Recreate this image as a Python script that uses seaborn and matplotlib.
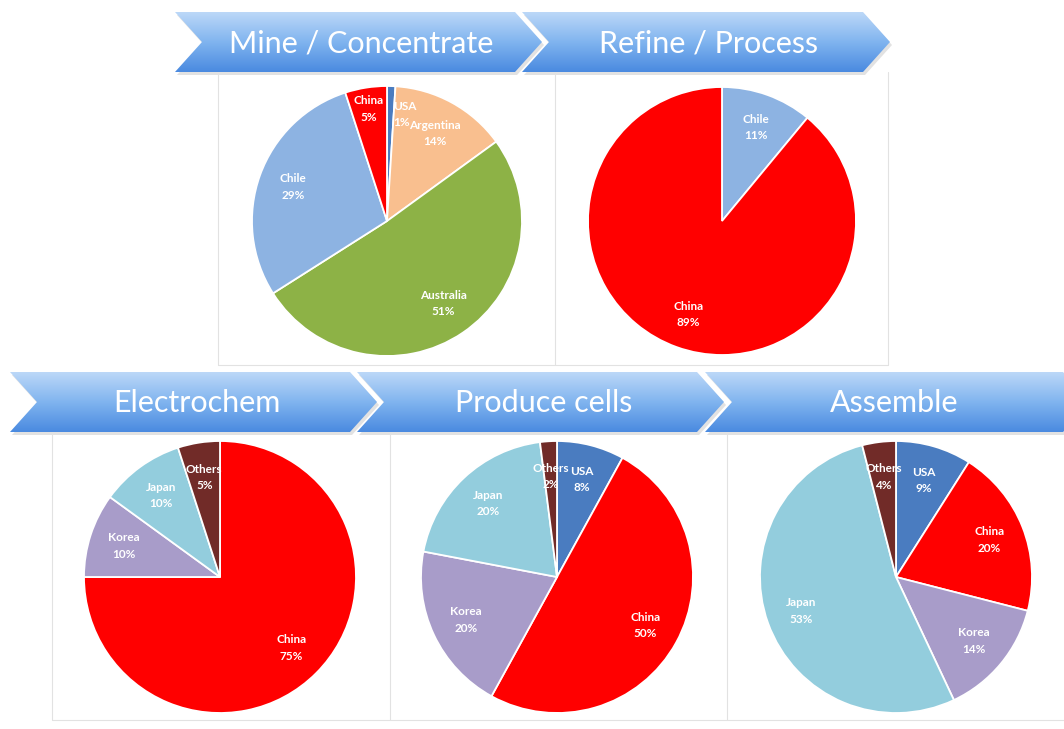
import matplotlib
matplotlib.use('Agg')
import matplotlib.pyplot as plt
import numpy as np
import seaborn as sns
from matplotlib.patches import Polygon
from matplotlib.colors import LinearSegmentedColormap

sns.set_theme(style='white')
plt.rcParams['font.family'] = ['Lato', 'DejaVu Sans']

#stage names
stages = ['Mine / Concentrate', 'Refine / Process', 'Electrochem', 'Produce cells', 'Assemble']

#shares per stage (clockwise from 12 o'clock)
mine_labels = ['USA', 'Argentina', 'Australia', 'Chile', 'China']
mine_values = [1, 14, 51, 29, 5]

refine_labels = ['Chile', 'China']
refine_values = [11, 89]

electro_labels = ['China', 'Korea', 'Japan', 'Others']
electro_values = [75, 10, 10, 5]

cells_labels = ['USA', 'China', 'Korea', 'Japan', 'Others']
cells_values = [8, 50, 20, 20, 2]

assemble_labels = ['USA', 'China', 'Korea', 'Japan', 'Others']
assemble_values = [9, 20, 14, 53, 4]

#country colours
colors = {
    'USA': '#4a7cc0',
    'Argentina': '#f9bf8f',
    'Australia': '#8db246',
    'Chile': '#8db3e2',
    'China': '#ff0000',
    'Korea': '#a89cc9',
    'Japan': '#93cddd',
    'Others': '#712b28',
}

W, H = 1064, 729
fig = plt.figure(figsize=(W / 100, H / 100), dpi=100)
fig.patch.set_facecolor('white')

#background layer in pixel coords
bg = fig.add_axes([0, 0, 1, 1])
bg.axis('off')

#faint panel frames
frame_col = '#e2e2e2'
for x in [218, 555, 888]:
    bg.plot([x, x], [72, 365], color=frame_col, lw=0.8)
bg.plot([218, 888], [365, 365], color=frame_col, lw=0.8)
for x in [52, 390, 727]:
    bg.plot([x, x], [432, 720], color=frame_col, lw=0.8)
bg.plot([52, 1064], [720, 720], color=frame_col, lw=0.8)

#chevron headers
cmap = LinearSegmentedColormap.from_list('chev', ['#bcd8f8', '#80b4ef', '#4a8ae0'])
grad = np.linspace(0, 1, 200).reshape(-1, 1)
chevrons = [
    (stages[0], 175, 542, 12, 72),
    (stages[1], 522, 890, 12, 72),
    (stages[2], 10, 377, 372, 432),
    (stages[3], 357, 724, 372, 432),
    (stages[4], 705, 1090, 372, 432),
]
d = 27
for title, x0, x1, y0, y1 in chevrons:
    ym = (y0 + y1) / 2
    pts = [(x0, y0), (x1 - d, y0), (x1, ym), (x1 - d, y1), (x0, y1), (x0 + d, ym)]
    shadow = Polygon([(px + 2, py + 3) for px, py in pts], closed=True,
                     facecolor='#a0a0a0', edgecolor='none', alpha=0.3, zorder=1)
    bg.add_patch(shadow)
    poly = Polygon(pts, closed=True, facecolor='none', edgecolor='none', zorder=2)
    bg.add_patch(poly)
    im = bg.imshow(grad, extent=[x0, x1, y1, y0], cmap=cmap, aspect='auto', zorder=2)
    im.set_clip_path(poly)
    tx = (x0 + x1) / 2 + 3 if x1 < W else (x0 + W) / 2 + 10
    bg.text(tx, ym + 1, title, color='white', fontsize=22, ha='center', va='center', zorder=3)

bg.set_xlim(0, W)
bg.set_ylim(H, 0)

#pies: (labels, values, center x, center y, radius) in pixels
pies = [
    (mine_labels, mine_values, 387, 221, 135),
    (refine_labels, refine_values, 722, 221, 134),
    (electro_labels, electro_values, 220, 577, 136),
    (cells_labels, cells_values, 557, 577, 136),
    (assemble_labels, assemble_values, 896, 577, 136),
]
for i, (labels, values, cx, cy, r) in enumerate(pies):
    ax = fig.add_axes([(cx - r) / W, 1 - (cy + r) / H, 2 * r / W, 2 * r / H])
    texts = [f'{n}\n{v}%' for n, v in zip(labels, values)]
    wedges, lbls = ax.pie(values, labels=texts, colors=[colors[n] for n in labels],
                          startangle=90, counterclock=False, labeldistance=0.74,
                          wedgeprops=dict(edgecolor='white', linewidth=1.3),
                          textprops=dict(color='white', fontsize=8.5, fontweight='bold',
                                         ha='center', va='center', linespacing=1.6))
    if i == 0:
        #tiny USA slice: label sits to the right, China label a bit higher
        x, y = lbls[0].get_position()
        lbls[0].set_position((x + 0.02, y + 0.05))
        lbls[0].set_ha('left')
        x, y = lbls[4].get_position()
        lbls[4].set_position((x - 0.02, y + 0.1))
    ax.set_xlim(-1, 1)
    ax.set_ylim(-1, 1)
    ax.set_aspect('equal')
    ax.axis('off')

fig.savefig('out.png', dpi=100, facecolor='white')
